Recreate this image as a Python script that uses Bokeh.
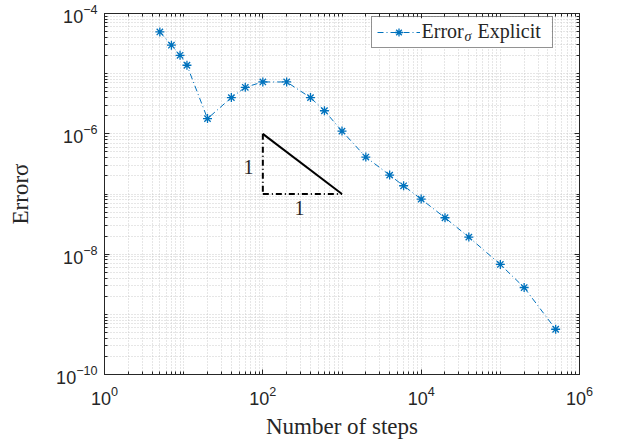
from bokeh.plotting import figure
from bokeh.models import (LogAxis, FixedTicker, Label, Legend, LegendItem, Range1d, BoxAnnotation)
from bokeh.embed import file_html
from bokeh.resources import INLINE

# ---- data ----
steps = [5, 7, 9, 11, 20, 40, 60, 100, 200, 400, 600, 1000, 2000, 4000, 6000,
         10000, 20000, 40000, 100000, 200000, 500000]
error_sigma = [4.94e-5, 2.97e-5, 2.02e-5, 1.38e-5, 1.79e-6, 4.0e-6, 5.94e-6, 7.28e-6,
               7.28e-6, 4.0e-6, 2.42e-6, 1.11e-6, 4.11e-7, 2.06e-7, 1.37e-7, 8.22e-8,
               4.03e-8, 1.92e-8, 6.75e-9, 2.79e-9, 5.65e-10]

# slope triangle (order 1 reference)
tri_x = [100, 1000]
tri_y = [1e-6, 1e-7]

x_major = [1, 1e2, 1e4, 1e6]
y_major = [1e-10, 1e-8, 1e-6, 1e-4]
x_minor = [m * 10.0 ** k for k in range(0, 6) for m in range(1, 10) if m * 10.0 ** k not in x_major]
y_minor = [m * 10.0 ** k for k in range(-10, -4) for m in range(1, 10) if m * 10.0 ** k not in y_major]

BLUE = "#0072BD"
DARK = "#262626"
GRID = "#cccccc"
SERIF = "Liberation Serif"
SANS = "Liberation Sans"

p = figure(width=617, height=443, x_axis_type="log", y_axis_type="log",
           x_range=Range1d(1, 1e6), y_range=Range1d(1e-10, 1e-4),
           output_backend="svg", toolbar_location=None,
           min_border_left=104, min_border_right=38, min_border_top=13, min_border_bottom=69)
p.background_fill_color = "white"
p.border_fill_color = "white"
p.outline_line_color = DARK
p.outline_line_width = 1

xt = FixedTicker(ticks=x_major, minor_ticks=x_minor)
yt = FixedTicker(ticks=y_major, minor_ticks=y_minor)

def style_axis(ax, ticker, show_labels=True):
    ax.ticker = ticker
    ax.axis_line_color = DARK
    ax.major_tick_line_color = DARK
    ax.minor_tick_line_color = DARK
    ax.major_tick_in = 5
    ax.major_tick_out = 0
    ax.minor_tick_in = 3
    ax.minor_tick_out = 0
    ax.major_label_text_font = SANS
    ax.major_label_text_color = DARK
    ax.major_label_text_font_size = "18px" if show_labels else "0px"
    if not show_labels:
        ax.major_label_text_alpha = 0

style_axis(p.xaxis[0], xt)
style_axis(p.yaxis[0], yt)
p.xaxis[0].major_label_standoff = 11
p.yaxis[0].major_label_standoff = 7
p.xaxis[0].axis_label = "Number of steps"
p.xaxis[0].axis_label_text_font = SERIF
p.xaxis[0].axis_label_text_font_style = "normal"
p.xaxis[0].axis_label_text_font_size = "23px"
p.xaxis[0].axis_label_text_color = DARK
p.xaxis[0].axis_label_standoff = 6
p.yaxis[0].axis_label = "Errorσ"
p.yaxis[0].axis_label_text_font = SERIF
p.yaxis[0].axis_label_text_font_style = "normal"
p.yaxis[0].axis_label_text_font_size = "23px"
p.yaxis[0].axis_label_text_color = DARK
p.yaxis[0].axis_label_standoff = 20

top_ax = LogAxis()
style_axis(top_ax, xt, show_labels=False)
right_ax = LogAxis()
style_axis(right_ax, yt, show_labels=False)
p.add_layout(top_ax, "above")
p.add_layout(right_ax, "right")

for g, t in ((p.xgrid[0], xt), (p.ygrid[0], yt)):
    g.ticker = t
    g.grid_line_color = GRID
    g.grid_line_dash = "1 2"
    g.grid_line_width = 1
    g.minor_grid_line_color = GRID
    g.minor_grid_line_dash = "1 2"
    g.minor_grid_line_width = 1

# data series
line_r = p.line(steps, error_sigma, line_color=BLUE, line_width=1, line_dash="6 3 1 3")
mark_r = p.scatter(steps, error_sigma, marker="asterisk", size=9, line_color=BLUE, line_width=1.3)

# slope triangle
p.line(tri_x, tri_y, line_color="black", line_width=2)
p.line([tri_x[0], tri_x[0]], tri_y, line_color="black", line_width=2, line_dash="6 3 1 3")
p.line(tri_x, [tri_y[1], tri_y[1]], line_color="black", line_width=2, line_dash="6 3 1 3")
p.add_layout(Label(x=66, y=2.8e-7, text="1", text_font=SERIF, text_font_size="20px",
                   text_align="center", text_baseline="middle", text_color=DARK))
p.add_layout(Label(x=290, y=5.8e-8, text="1", text_font=SERIF, text_font_size="20px",
                   text_align="center", text_baseline="middle", text_color=DARK))

# white backing of the legend box (covers the grid)
p.add_layout(BoxAnnotation(left=2358, right=4.43e5, top=8.26e-5, bottom=2.62e-5,
                           fill_color="white", fill_alpha=1, line_alpha=0, level="annotation"))

# legend text (Error_sigma Explicit)
p.add_layout(Label(x=1.01e4, y=5.16e-5, text="Error",
                   text_font=SERIF, text_font_size="20px", text_baseline="middle", text_color=DARK))
p.add_layout(Label(x=3.53e4, y=4.1e-5, text="σ",
                   text_font=SERIF, text_font_size="14px", text_font_style="italic",
                   text_baseline="middle", text_color=DARK))
p.add_layout(Label(x=5.14e4, y=5.16e-5, text="Explicit",
                   text_font=SERIF, text_font_size="20px", text_baseline="middle", text_color=DARK))

# legend frame and glyph sample
legend = Legend(items=[LegendItem(label=" ", renderers=[line_r, mark_r])],
                location=(267, 326), padding=5, margin=0, spacing=0,
                glyph_width=43, glyph_height=20, label_standoff=0, label_width=127,
                label_height=20, label_text_font_size="10px",
                border_line_color=DARK, border_line_width=1,
                background_fill_alpha=0)
p.add_layout(legend)

open("out.html", "w").write(file_html(p, INLINE))
